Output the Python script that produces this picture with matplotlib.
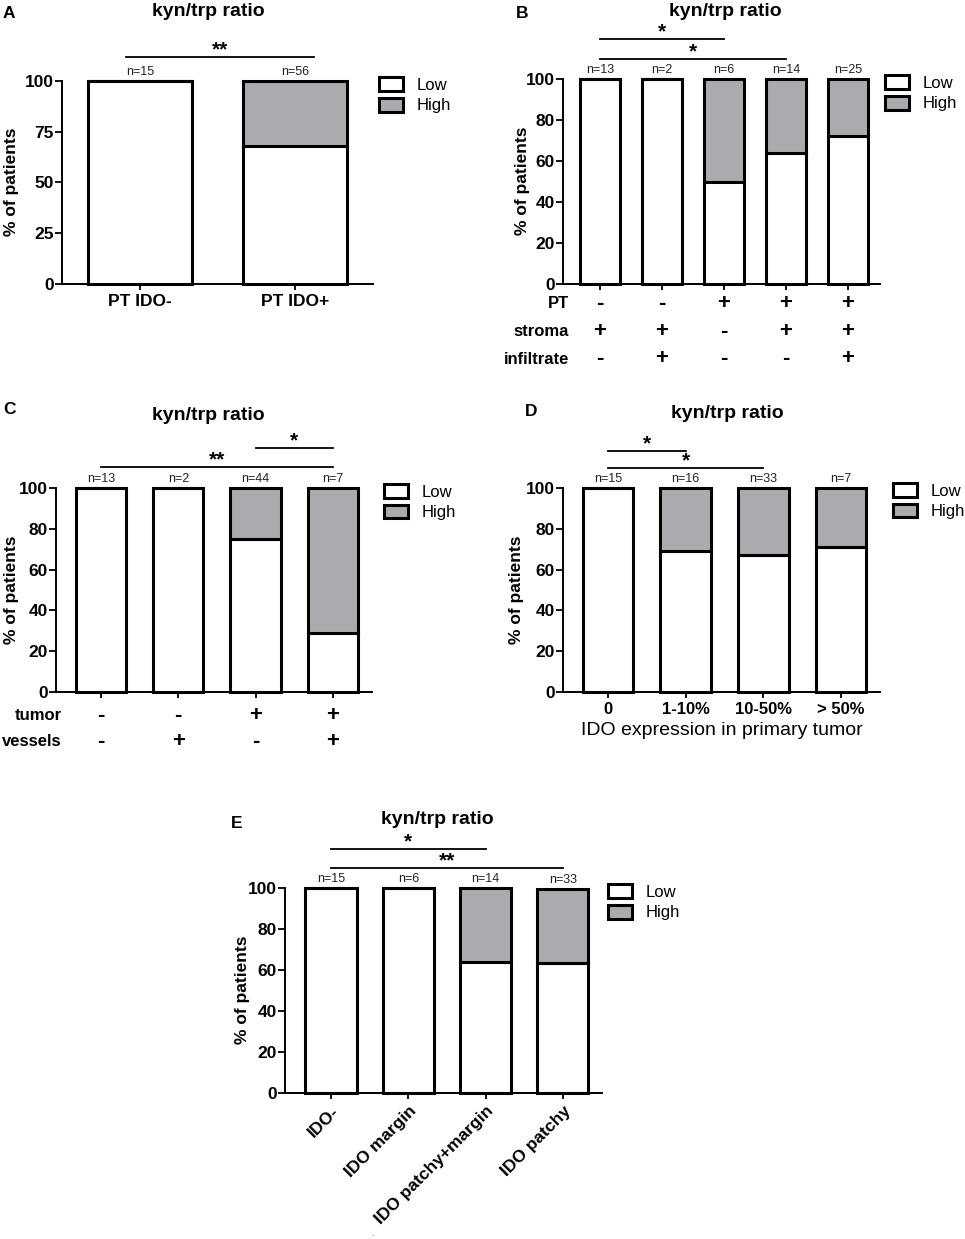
import matplotlib
matplotlib.use("Agg")
import matplotlib.pyplot as plt

plt.rcParams['font.family'] = ['Liberation Sans', 'DejaVu Sans']

# ---- data ----
A_groups = ["PT IDO-", "PT IDO+"]
A_low = [100, 68]
A_high = [0, 32]
A_n = [15, 56]
A_sig = [(0, 1, "**")]

B_low = [100, 100, 50, 64, 72]
B_high = [0, 0, 50, 36, 28]
B_n = [13, 2, 6, 14, 25]
B_rows = ["PT", "stroma", "infiltrate"]
B_PT = ["-", "-", "+", "+", "+"]
B_stroma = ["+", "+", "-", "+", "+"]
B_infiltrate = ["-", "+", "-", "-", "+"]
B_sig = [(0, 2, "*"), (0, 3, "*")]

C_low = [100, 100, 75, 29]
C_high = [0, 0, 25, 71]
C_n = [13, 2, 44, 7]
C_rows = ["tumor", "vessels"]
C_tumor = ["-", "-", "+", "+"]
C_vessels = ["-", "+", "-", "+"]
C_sig = [(2, 3, "*"), (0, 3, "**")]

D_groups = ["0", "1-10%", "10-50%", "> 50%"]
D_low = [100, 69, 67, 71]
D_high = [0, 31, 33, 29]
D_n = [15, 16, 33, 7]
D_sig = [(0, 1, "*"), (0, 2, "*")]

E_groups = ["IDO-", "IDO margin", "IDO patchy+margin", "IDO patchy"]
E_low = [100, 100, 64, 63.6]
E_high = [0, 0, 36, 36]
E_n = [15, 6, 14, 33]
E_sig = [(0, 2, "*"), (0, 3, "**")]

ticks_25 = [0, 25, 50, 75, 100]
ticks_20 = [0, 20, 40, 60, 80, 100]

GRAY = "#aaabae"
W, H = 965, 1239

fig = plt.figure(figsize=(W / 100, H / 100), dpi=100)


def fx(px):
    return px / W


def fy(py):
    return 1 - py / H


def draw_panel(box, tick0, step, width, low, high, n, yticks, legend_px):
    x0, x1, ytop, ybot = box
    ax = fig.add_axes([fx(x0), fy(ybot), (x1 - x0) / W, (ybot - ytop) / H])
    pos = list(range(len(low)))
    b1 = ax.bar(pos, low, width, color="white", edgecolor="black", linewidth=2.2,
                clip_on=False, zorder=3)
    b2 = ax.bar(pos, high, width, bottom=low, color=GRAY, edgecolor="black",
                linewidth=2.2, clip_on=False, zorder=3)
    ax.set_xlim((x0 - tick0) / step, (x1 - tick0) / step)
    ax.set_ylim(0, 100)
    ax.set_yticks(yticks)
    ax.set_yticklabels([str(t) for t in yticks], fontweight="bold", fontsize=12.5)
    ax.set_xticks(pos)
    ax.set_xticklabels([])
    for s in ["top", "right"]:
        ax.spines[s].set_visible(False)
    for s in ["left", "bottom"]:
        ax.spines[s].set_linewidth(1.4)
    ax.tick_params(axis="y", direction="out", length=5, width=1.3, pad=1)
    ax.tick_params(axis="x", direction="out", length=4.5, width=1.3, pad=3)
    for i in pos:
        ax.annotate("n=%d" % n[i], xy=(i, low[i] + high[i]), xytext=(0, 4),
                    textcoords="offset points", ha="center", va="baseline",
                    fontsize=9, color="#222222", annotation_clip=False)
    lx, ly = legend_px
    ax.legend([b1, b2], ["Low", "High"], loc="upper left",
              bbox_to_anchor=((lx - x0) / (x1 - x0), (ybot - ly + 10) / (ybot - ytop)),
              frameon=False, borderpad=0, borderaxespad=0, handlelength=1.45,
              handleheight=0.9, handletextpad=0.8, labelspacing=0.3, fontsize=12)
    return ax


def sig(ax, box, i, j, stars, py, ext=(0, 0)):
    x0, x1, ytop, ybot = box
    yd = 100 * (ybot - py) / (ybot - ytop)
    a, b = i - ext[0], j + ext[1]
    ax.plot([a, b], [yd, yd], color="black", lw=1.3, clip_on=False)
    ax.annotate(stars, xy=((a + b) / 2, yd), xytext=(0, 1), textcoords="offset points",
                ha="center", va="baseline", fontsize=15, fontweight="bold",
                annotation_clip=False)


def rows(ax, box, names, signs, ys, name_x):
    x0, x1, ytop, ybot = box
    for name, row, py in zip(names, signs, ys):
        fig.text(fx(name_x), fy(py), name, ha="right", va="center",
                 fontsize=12, fontweight="bold")
        for i, s in enumerate(row):
            ax.text(i, (ybot - py) / (ybot - ytop), s, transform=ax.get_xaxis_transform(),
                    ha="center", va="center", fontsize=16, fontweight="bold")


def heading(letter, lpx, title_px, ylab_px):
    fig.text(fx(lpx[0]), fy(lpx[1]), letter, ha="center", va="center",
             fontsize=12.5, fontweight="bold")
    fig.text(fx(title_px[0]), fy(title_px[1]), "kyn/trp ratio", ha="center",
             va="center", fontsize=14, fontweight="bold")
    fig.text(fx(ylab_px[0]), fy(ylab_px[1]), "% of patients", ha="center",
             va="center", rotation=90, fontsize=12.5, fontweight="bold")


# ---- panel A ----
boxA = (62, 373, 81, 284)
axA = draw_panel(boxA, 140, 155, 0.67, A_low, A_high, A_n, ticks_25, (379, 87))
axA.set_xticklabels(A_groups, fontweight="bold", fontsize=12.5)
for i, j, st in A_sig:
    sig(axA, boxA, i, j, st, 57, ext=(0.09, 0.12))
heading("A", (9, 13), (208, 12), (12, 182))

# ---- panel B ----
boxB = (563, 880, 79, 284)
axB = draw_panel(boxB, 600, 62, 0.66, B_low, B_high, B_n, ticks_20, (885, 85))
for (i, j, st), py in zip(B_sig, [39, 59]):
    sig(axB, boxB, i, j, st, py)
rows(axB, boxB, B_rows, [B_PT, B_stroma, B_infiltrate], [304, 332, 359], 569)
heading("B", (522, 13), (725, 12), (522, 181))

# ---- panel C ----
boxC = (56, 372, 488, 692)
axC = draw_panel(boxC, 101, 77.3, 0.65, C_low, C_high, C_n, ticks_20, (384, 494))
for (i, j, st), py in zip(C_sig, [448, 467]):
    sig(axC, boxC, i, j, st, py)
rows(axC, boxC, C_rows, [C_tumor, C_vessels], [716, 742], 62)
heading("C", (9, 410), (208, 416), (12, 590))

# ---- panel D ----
boxD = (563, 880, 488, 692)
axD = draw_panel(boxD, 608, 77.7, 0.65, D_low, D_high, D_n, ticks_20, (893, 493))
axD.set_xticklabels(D_groups, fontweight="bold", fontsize=12)
axD.set_xlabel("IDO expression in primary tumor", fontsize=14, labelpad=3)
for (i, j, st), py in zip(D_sig, [451, 468]):
    sig(axD, boxD, i, j, st, py)
heading("D", (531, 411), (727, 414), (517, 590))

# ---- panel E ----
boxE = (285, 602, 888, 1093)
axE = draw_panel(boxE, 331, 77.3, 0.66, E_low, E_high, E_n, ticks_20, (608, 894))
axE.set_xticklabels(E_groups, fontweight="bold", fontsize=12.5, rotation=45,
                    ha="right", rotation_mode="anchor")
for (i, j, st), py in zip(E_sig, [849, 868]):
    sig(axE, boxE, i, j, st, py)
heading("E", (237, 823), (437, 820), (243, 990))
fig.text(fx(372), fy(1234), ".", fontsize=6, ha="center", va="center", color="#555555")

fig.savefig("out.png", dpi=100)
